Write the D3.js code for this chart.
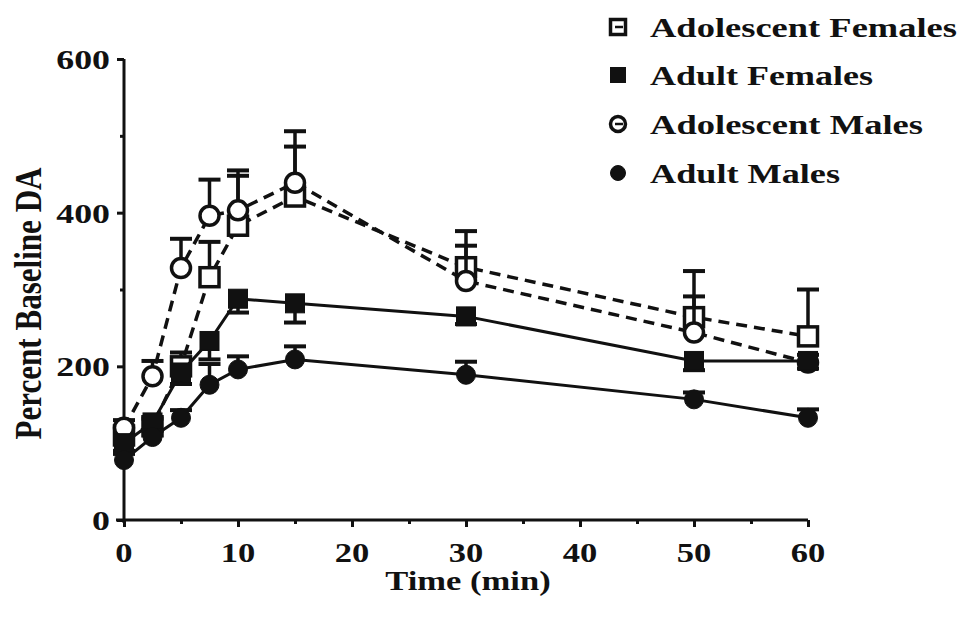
<!DOCTYPE html>
<html>
<head>
<meta charset="utf-8">
<script src="https://cdn.jsdelivr.net/npm/d3@7"></script>
<style>
  html, body { margin: 0; padding: 0; background: #fff; }
  svg { display: block; }
  text { font-family: "Liberation Serif", "Times New Roman", serif; font-weight: bold; fill: #111; }
</style>
</head>
<body>
<svg id="chart" width="966" height="618"></svg>
<script>
// ---- data ----
const times = [0, 2.5, 5, 7.5, 10, 15, 30, 50, 60];
const seriesNames = ["Adolescent Females", "Adult Females", "Adolescent Males", "Adult Males"];
const adolFemales    = [110, 122, 200, 316, 383, 421, 329, 264, 239];
const adolFemalesErr = [10, 10, 18, 46, 65, 65, 47, 60, 61];
const adultFemales    = [100, 127, 192, 233, 288, 282, 265, 207, 207];
const adultFemalesErr = [10, 10, 15, 24, 18, 25, 10, 12, 10];
const adolMales    = [120, 187, 328, 396, 403, 439, 311, 244, 205];
const adolMalesErr = [10, 20, 38, 47, 52, 67, 46, 47, 10];
const adultMales    = [78, 108, 133, 176, 196, 209, 189, 157, 133];
const adultMalesErr = [8, 8, 10, 27, 17, 17, 17, 9, 11];
const xTicks = [0, 10, 20, 30, 40, 50, 60];
const xMinorTicks = [5, 15, 25, 35, 45, 55];
const yTicks = [0, 200, 400, 600];
const yMinorTicks = [100, 300, 500];
const xTitle = "Time (min)";
const yTitle = "Percent Baseline DA";

// ---- layout ----
const svg = d3.select("#chart");
const x = d3.scaleLinear().domain([0, 60]).range([124, 808]);
const y = d3.scaleLinear().domain([0, 600]).range([520, 59]);
const SX = 1.28; // horizontal stretch of the reference's text

const series = [
  { name: seriesNames[0], vals: adolFemales, err: adolFemalesErr, shape: "square", open: true, dashed: true, dir: 1 },
  { name: seriesNames[2], vals: adolMales, err: adolMalesErr, shape: "circle", open: true, dashed: true, dir: 1 },
  { name: seriesNames[1], vals: adultFemales, err: adultFemalesErr, shape: "square", open: false, dashed: false, dir: -1 },
  { name: seriesNames[3], vals: adultMales, err: adultMalesErr, shape: "circle", open: false, dashed: false, dir: 1 }
];

// ---- axes ----
const yAxis = svg.append("g").attr("transform", `translate(${x(0)},0)`)
  .call(d3.axisLeft(y).tickValues(yTicks).tickSize(7).tickFormat(""));
const yAxisMinor = svg.append("g").attr("transform", `translate(${x(0)},0)`)
  .call(d3.axisLeft(y).tickValues(yMinorTicks).tickSize(4).tickFormat(""));
const xAxis = svg.append("g").attr("transform", `translate(0,${y(0)})`)
  .call(d3.axisBottom(x).tickValues(xTicks).tickSize(7).tickFormat(""));
const xAxisMinor = svg.append("g").attr("transform", `translate(0,${y(0)})`)
  .call(d3.axisBottom(x).tickValues(xMinorTicks).tickSize(4).tickFormat(""));
[yAxis, yAxisMinor, xAxis, xAxisMinor].forEach(g => {
  g.selectAll("path.domain").attr("stroke", "#111").attr("stroke-width", 3);
  g.selectAll("line").attr("stroke", "#111").attr("stroke-width", 3);
});
yAxisMinor.select("path.domain").remove();
xAxisMinor.select("path.domain").remove();
yAxis.select("path.domain").attr("d", `M0,${y(600)}V${y(0) + 3}`);
xAxis.select("path.domain").attr("d", `M${x(0) - 8},0H${x(60)}`);

// tick labels (stretched horizontally)
yTicks.forEach(v => {
  svg.append("text")
    .attr("transform", `translate(110,${y(v) + 10}) scale(${SX},1)`)
    .attr("text-anchor", "end").attr("font-size", 28).text(v);
});
xTicks.forEach(v => {
  svg.append("text")
    .attr("transform", `translate(${x(v)},${y(0) + 42}) scale(${SX},1)`)
    .attr("text-anchor", "middle").attr("font-size", 27).text(v);
});

// titles
svg.append("text")
  .attr("transform", `translate(${(x(0) + x(60)) / 2 + 2},590) scale(${SX},1)`)
  .attr("text-anchor", "middle").attr("font-size", 27).text(xTitle);
svg.append("text")
  .attr("transform", `translate(41,${(y(0) + y(600)) / 2 + 14}) rotate(-90) scale(1,${SX})`)
  .attr("text-anchor", "middle").attr("font-size", 30)
  .attr("textLength", 272).attr("lengthAdjust", "spacingAndGlyphs").text(yTitle);

// ---- marks ----
function drawMarker(g, cx, cy, s, size) {
  const fill = s.open ? "#fff" : "#111";
  if (s.shape === "square") {
    g.append("rect").attr("x", cx - size / 2).attr("y", cy - size / 2)
      .attr("width", size).attr("height", size)
      .attr("fill", fill).attr("stroke", "#111").attr("stroke-width", s.open ? 3.5 : 1);
  } else {
    g.append("circle").attr("cx", cx).attr("cy", cy).attr("r", size / 2)
      .attr("fill", fill).attr("stroke", "#111").attr("stroke-width", s.open ? 3.5 : 1);
  }
}

const line = d3.line().x(d => x(d[0])).y(d => y(d[1]));
series.forEach(s => {
  const g = svg.append("g");
  const pts = times.map((t, i) => [t, s.vals[i], s.err[i]]);
  g.append("path").datum(pts).attr("d", line)
    .attr("fill", "none").attr("stroke", "#111")
    .attr("stroke-width", s.dashed ? 3.5 : 3)
    .attr("stroke-dasharray", s.dashed ? "11,7" : null);
  pts.forEach(p => {
    const cx = x(p[0]), cy = y(p[1]), ey = y(p[1] + s.dir * p[2]);
    g.append("line").attr("x1", cx).attr("x2", cx).attr("y1", cy).attr("y2", ey)
      .attr("stroke", "#111").attr("stroke-width", 3.5);
    g.append("line").attr("x1", cx - 11).attr("x2", cx + 11).attr("y1", ey).attr("y2", ey)
      .attr("stroke", "#111").attr("stroke-width", 4);
  });
  pts.forEach(p => drawMarker(g, x(p[0]), y(p[1]), s, 19));
});

// ---- legend ----
const legendOrder = [0, 2, 1, 3];
const legendWidths = [307, 223, 273, 190];
const legendRows = [27, 75, 124, 173];
legendOrder.forEach((si, k) => {
  const s = series[si];
  const g = svg.append("g");
  drawMarker(g, 618, legendRows[k], s, 15);
  if (s.open) {
    g.append("line").attr("x1", 615).attr("x2", 623)
      .attr("y1", legendRows[k]).attr("y2", legendRows[k])
      .attr("stroke", "#111").attr("stroke-width", 2.5);
  }
  g.append("text").attr("x", 650).attr("y", legendRows[k] + 10)
    .attr("font-size", 28).attr("textLength", legendWidths[k])
    .attr("lengthAdjust", "spacingAndGlyphs").text(s.name);
});
</script>
</body>
</html>
